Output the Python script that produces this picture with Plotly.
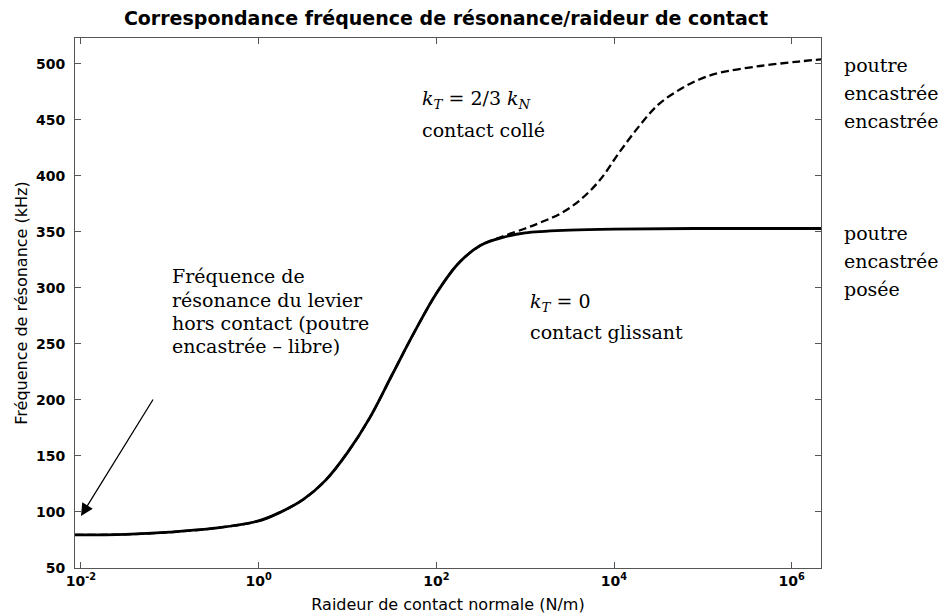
import plotly.graph_objects as go

# raideur de contact normale (N/m) et frequence de resonance (kHz)
# kT = 0 : contact glissant (trait plein)
k_glissant = [0.0086, 0.032, 0.1, 0.32, 1, 1.78, 3.16, 5.62, 10, 17.8, 31.6, 56.2,
              100, 178, 316, 562, 1000, 3160, 1e4, 1e5, 2.15e6]
f_glissant = [79.5, 80, 82, 85.5, 92, 100, 111, 128, 153, 184, 222, 260,
              295, 322, 338, 345, 349, 351.5, 352.5, 353, 353]

# kT = 2/3 kN : contact colle (pointilles)
k_colle = [0.0086, 0.032, 0.1, 0.32, 1, 1.78, 3.16, 5.62, 10, 17.8, 31.6, 56.2,
           100, 178, 316, 562, 1000, 1450, 2450, 4100, 6900, 11500, 19500, 32000,
           55000, 91000, 155000, 440000, 1.2e6, 2.15e6]
f_colle = [79.5, 80, 82, 85.5, 92, 100, 111, 128, 153, 184, 222, 260,
           295, 322, 338, 346, 353, 358, 366, 378, 396, 421, 445, 464,
           477, 486, 492, 498, 502, 504]

x_tickvals = [1e-2, 1, 1e2, 1e4, 1e6]
x_ticktext = ["10<sup>-2</sup>", "10<sup>0</sup>", "10<sup>2</sup>",
              "10<sup>4</sup>", "10<sup>6</sup>"]

# zone de trace en pixels (gauche, droite, haut, bas)
L, R, T, B = 75, 821, 38, 568
W, H = 945, 616

def px(x):
    return (x - L) / (R - L)

def py(y):
    return (B - y) / (B - T)

fig = go.Figure()
fig.add_trace(go.Scatter(x=k_glissant, y=f_glissant, mode="lines",
                         line=dict(color="black", width=2.8, shape="spline", smoothing=1)))
fig.add_trace(go.Scatter(x=k_colle, y=f_colle, mode="lines",
                         line=dict(color="black", width=2.3, dash="8px,4px",
                                   shape="spline", smoothing=1)))

serif = dict(family="DejaVu Serif", size=19, color="black")

# texte dans le graphe: (texte, x gauche, y centre)
labels = [
    ("<i>k</i><sub><i>T</i></sub> = 2/3 <i>k</i><sub><i>N</i></sub>", 420, 100),
    ("contact collé", 420, 130),
    ("<i>k</i><sub><i>T</i></sub> = 0", 528, 302),
    ("contact glissant", 528, 332),
    ("Fréquence de", 170, 276),
    ("résonance du levier", 170, 300),
    ("hors contact (poutre", 170, 323),
    ("encastrée – libre)", 170, 346),
    ("poutre", 842, 65),
    ("encastrée", 842, 93),
    ("encastrée", 842, 121),
    ("poutre", 842, 233),
    ("encastrée", 842, 261),
    ("posée", 842, 289),
]
for txt, x, y in labels:
    fig.add_annotation(text=txt, xref="paper", yref="paper", x=px(x), y=py(y),
                       xanchor="left", yanchor="middle", showarrow=False, font=serif)

# fleche vers la frequence hors contact
fig.add_annotation(xref="paper", yref="paper", x=px(81), y=py(516),
                   ax=73, ay=-118, text="", showarrow=True, arrowhead=2,
                   arrowsize=1.9, arrowwidth=1.3, arrowcolor="black")

fig.update_layout(
    width=W, height=H,
    margin=dict(l=L, r=W - R, t=T, b=H - B, autoexpand=False),
    paper_bgcolor="white", plot_bgcolor="white",
    showlegend=False,
    title=dict(text="Correspondance fréquence de résonance/raideur de contact",
               x=px(446), xref="paper", xanchor="center",
               y=1 - 18 / H, yref="container", yanchor="middle",
               font=dict(family="DejaVu Sans", size=19, color="black", weight="bold")),
)

axis_common = dict(showline=True, linecolor="#555", linewidth=1, mirror="ticks",
                   ticks="inside", ticklen=6, tickcolor="#555", showgrid=False,
                   zeroline=False, automargin=False,
                   tickfont=dict(family="DejaVu Sans", size=14, color="black", weight="bold"))

fig.update_xaxes(type="log", range=[-2.067, 6.33], tickvals=x_tickvals, ticktext=x_ticktext,
                 title=dict(text="Raideur de contact normale (N/m)", standoff=11,
                            font=dict(family="DejaVu Sans", size=16, color="black")),
                 **axis_common)
fig.update_yaxes(range=[50, 523], tick0=50, dtick=50,
                 title=dict(text="Fréquence de résonance (kHz)", standoff=4,
                            font=dict(family="DejaVu Sans", size=16, color="black")),
                 ticklabelstandoff=6,
                 **axis_common)

# pas de marge autour de la page, pas de barre d'outils
fig.write_html("out.html", config={"displayModeBar": False},
               post_script="document.body.style.margin='0';")
